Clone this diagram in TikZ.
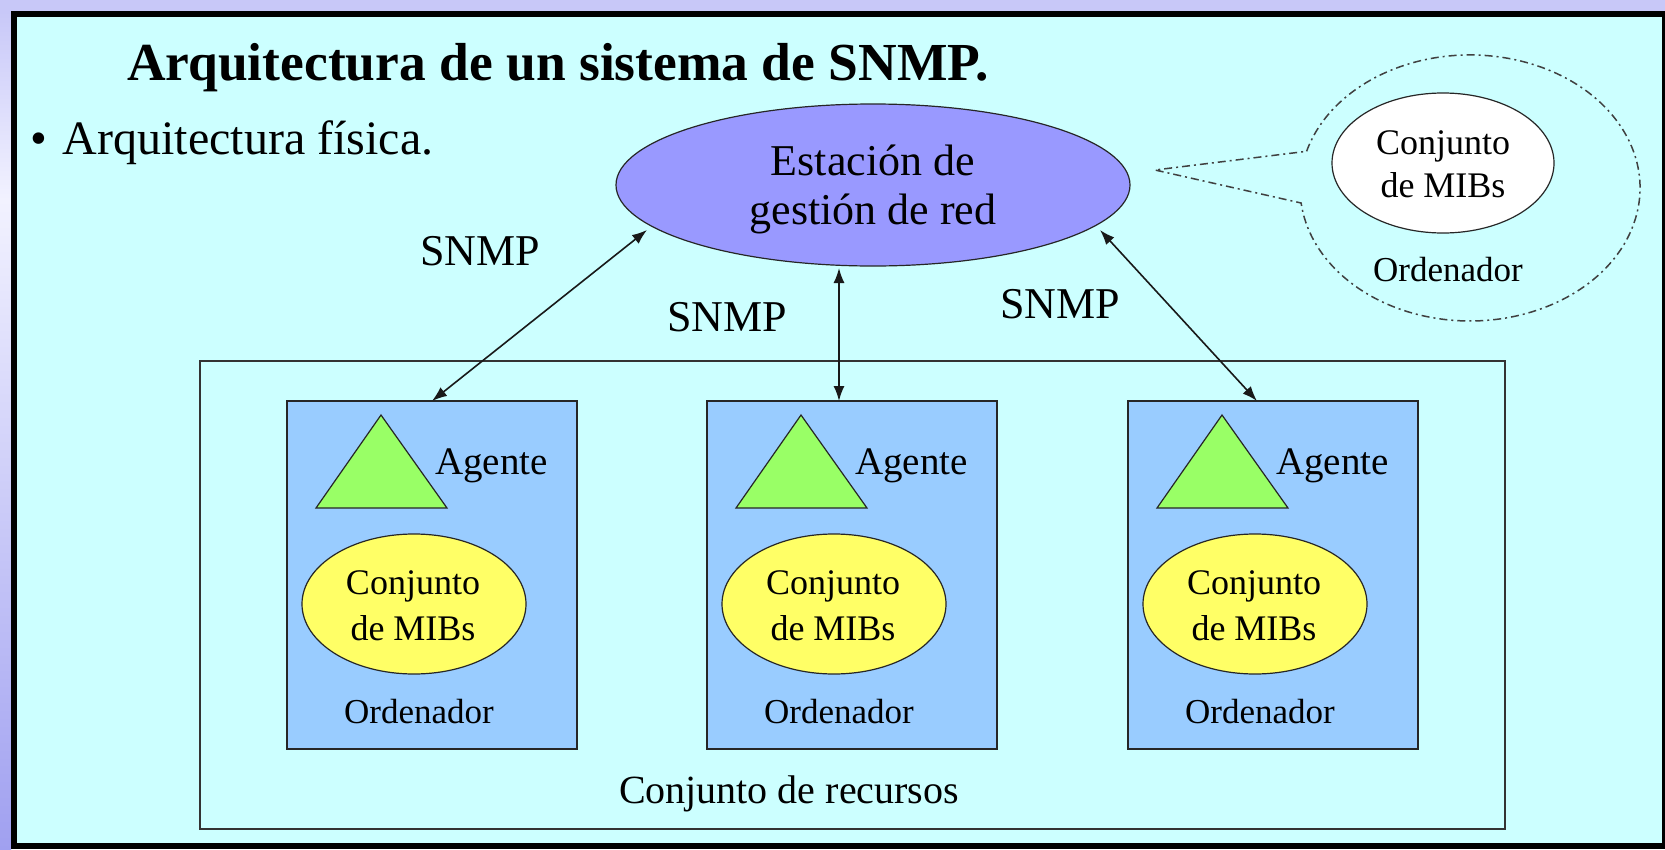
\documentclass[tikz,border=0pt]{standalone}
\usepackage{fontspec}
\setmainfont{Liberation Serif}
\usetikzlibrary{shapes.geometric,arrows.meta,calc}
\definecolor{bgcyan}{HTML}{CCFFFF}
\definecolor{stationc}{HTML}{9999FF}
\definecolor{compblue}{HTML}{99CCFF}
\definecolor{agentgreen}{HTML}{99FF66}
\definecolor{mibyellow}{HTML}{FFFF66}
\definecolor{lavtop}{HTML}{C8C8F8}
\definecolor{lavlight}{HTML}{F2F2FF}
\definecolor{lavbot}{HTML}{A0A0F0}
\newcommand{\twoln}[2]{\begin{tabular}[t]{@{}c@{}}#1\\#2\end{tabular}}
\newcommand{\fsTitle}{\fontsize{53.5}{60}\selectfont\bfseries}
\newcommand{\fsBul}{\fontsize{48}{54}\selectfont}
\newcommand{\fsSta}{\fontsize{44}{49}\selectfont}
\newcommand{\fsSnmp}{\fontsize{44}{50}\selectfont}
\newcommand{\fsAg}{\fontsize{39}{44}\selectfont}
\newcommand{\fsMib}{\fontsize{36}{46}\selectfont}
\newcommand{\fsCloud}{\fontsize{36}{43}\selectfont}
\newcommand{\fsOrd}{\fontsize{35}{40}\selectfont}
\newcommand{\fsRes}{\fontsize{40}{45}\selectfont}
\tikzset{
  txt/.style={inner sep=0, outer sep=0, anchor=base, text=black},
  compbox/.style={draw=black!85, fill=compblue, line width=1.5pt, minimum width=290pt, minimum height=348pt, inner sep=0, outer sep=0, anchor=north west},
  mib/.style={ellipse, draw=black!85, fill=mibyellow, line width=1.2pt, minimum width=224pt, minimum height=140pt, inner sep=0, outer sep=0},
  agentshape/.style={draw=black!85, fill=agentgreen, line width=1.2pt, line join=miter},
  link/.style={{Latex[length=15pt,width=11pt]}-{Latex[length=15pt,width=11pt]}, line width=1.6pt, draw=black!90},
  cloudline/.style={draw=black!75, line width=1.5pt, dash pattern=on 8pt off 4pt on 2pt off 4pt},
}
\begin{document}
\begin{tikzpicture}[x=1pt,y=-1pt]
\useasboundingbox (0,0) rectangle (1665,849);
% outer frame
\fill[lavtop] (0,0) rectangle (1665,11);
\shade[top color=lavtop, bottom color=lavlight] (0,11) rectangle (11,200);
\shade[top color=lavlight, bottom color=lavbot] (0,200) rectangle (11,849);
\fill[black] (11,11) rectangle (1665,849);
\fill[bgcyan] (17,17) rectangle (1662,843);
% title and bullet
\node[txt, anchor=base west, font=\fsTitle] (title) at (127,80) {Arquitectura de un sistema de SNMP.};
\node[txt, anchor=base west, font=\fsBul] (bullet) at (30,154) {•\hspace{16pt}Arquitectura física.};
% resources box
\node[draw=black!80, line width=1.5pt, minimum width=1305pt, minimum height=468pt, inner sep=0, outer sep=0, anchor=north west] (res) at (200,361) {};
\node[txt, font=\fsRes] (restxt) at (789,803) {Conjunto de recursos};
% computers
\foreach \i/\bx in {1/287,2/707,3/1128}{
  \begin{scope}[shift={(\bx,401)}]
    \node[compbox] (box\i) at (0,0) {};
    \draw[agentshape] (94,14) -- (160,107) -- (29,107) -- cycle;
    \node[txt, font=\fsAg] (ag\i) at (204.5,474-401) {Agente};
    \node[mib] (mib\i) at (127,203) {};
    \node[txt, font=\fsMib] (mibt\i) at (126,193) {\twoln{Conjunto}{de MIBs}};
    \node[txt, font=\fsOrd] (ord\i) at (132,322) {Ordenador};
  \end{scope}
}
% station
\node[ellipse, draw=black!85, fill=stationc, line width=1.2pt, minimum width=514pt, minimum height=162pt, inner sep=0, outer sep=0] (station) at (873,185) {};
\node[txt, font=\fsSta] (statxt) at (873,175) {\twoln{Estación de}{gestión de red}};
% cloud callout
\draw[cloudline] (1306.6,151.3) arc[start angle=164, end angle=-173.5, x radius=170pt, y radius=133pt] -- (1155,170) -- cycle;
\node[ellipse, draw=black!85, fill=white, line width=1.2pt, minimum width=222pt, minimum height=140pt, inner sep=0, outer sep=0] (cmib) at (1443,163) {};
\node[txt, font=\fsCloud] (cmibt) at (1443,154) {\twoln{Conjunto}{de MIBs}};
\node[txt, font=\fsOrd] (cord) at (1448,281) {Ordenador};
% SNMP labels
\node[txt, font=\fsSnmp] (snmp1) at (480,265) {SNMP};
\node[txt, font=\fsSnmp] (snmp2) at (727,331) {SNMP};
\node[txt, font=\fsSnmp] (snmp3) at (1060,318) {SNMP};
% links
\draw[link] ($(station.center)+(-226,45)$) -- (box1.north);
\draw[link] ([xshift=-13pt,yshift=-2pt]box2.north |- station.south) -- ([xshift=-13pt]box2.north);
\draw[link] ($(station.center)+(227,45)$) -- ([xshift=-16pt]box3.north);
\end{tikzpicture}
\end{document}
